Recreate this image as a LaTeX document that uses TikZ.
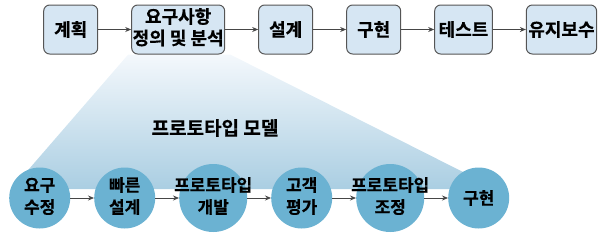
\documentclass[tikz,border=0pt]{standalone}
\usepackage{fontspec}
\newfontfamily\kr{Noto Sans CJK KR}[BoldFont={Noto Sans CJK KR Bold}, BoldFeatures={FakeBold=0.6}]
\usetikzlibrary{matrix,arrows.meta,backgrounds}

\definecolor{boxfill}{RGB}{214,230,243}
\definecolor{boxline}{RGB}{85,85,85}
\definecolor{circfill}{RGB}{107,178,210}
\definecolor{fantop}{RGB}{244,248,252}
\definecolor{fanbot}{RGB}{170,206,226}
\definecolor{arrowcol}{RGB}{70,70,70}

\newcommand\twoline[2]{\begin{tabular}{@{}c@{}}#1\\#2\end{tabular}}
\newcommand\zw[1]{\makebox[0pt]{#1}}

\begin{document}
\begin{tikzpicture}[x=1pt, y=-1pt, >={Stealth[length=6pt,width=5pt]},
  every node/.style={font=\kr\bfseries\fontsize{18}{21}\selectfont},
  stage/.style={draw=boxline, line width=1pt, fill=boxfill, rounded corners=6pt,
    minimum width=54pt, minimum height=49pt, inner xsep=2pt, inner ysep=0pt, anchor=center},
  phase/.style={circle, fill=circfill, inner sep=0pt, minimum size=61pt, anchor=center,
    font=\kr\bfseries\fontsize{17}{22}\selectfont},
  wide/.style={minimum size=68pt}]
  \useasboundingbox (0,0) rectangle (612,236);
  \matrix (m) [matrix of nodes, nodes={stage}, column sep=33pt, inner sep=0pt, anchor=west] at (43,29.5) {
    계획 & |[inner xsep=1pt]| \twoline{요구사항}{정의 및 분석} & 설계 & 구현 & |[inner xsep=4pt]| 테스트 & 유지보수 \\
  };
  \matrix (p) [matrix of nodes, nodes={phase}, column sep=24pt, inner sep=0pt, anchor=west] at (9,198) {
    \twoline{요구}{수정} & \twoline{빠른}{설계} & |[wide]| \twoline{\zw{프로토타입}}{개발} &
    \twoline{고객}{평가} & |[wide]| \twoline{\zw{프로토타입}}{조정} & 구현 \\
  };
  \node (title) at (215,128) {\fontsize{19}{21}\selectfont 프로토타입 모델};
  \foreach \i [count=\j from 2] in {1,...,5} {
    \draw[->, arrowcol, line width=0.8pt] (m-1-\i) -- (m-1-\j);
    \draw[->, arrowcol, line width=0.8pt] (p-1-\i) -- (p-1-\j);
  }
  \begin{scope}[on background layer]
    \shade[top color=fantop, bottom color=fanbot] ([xshift=-3pt]m-1-2.south west) -- ([xshift=5pt]m-1-2.south east)
      -- ([shift={(18pt,9pt)}]p-1-6.center) -- ([shift={(-28pt,9pt)}]p-1-1.center) -- cycle;
  \end{scope}
\end{tikzpicture}
\end{document}
